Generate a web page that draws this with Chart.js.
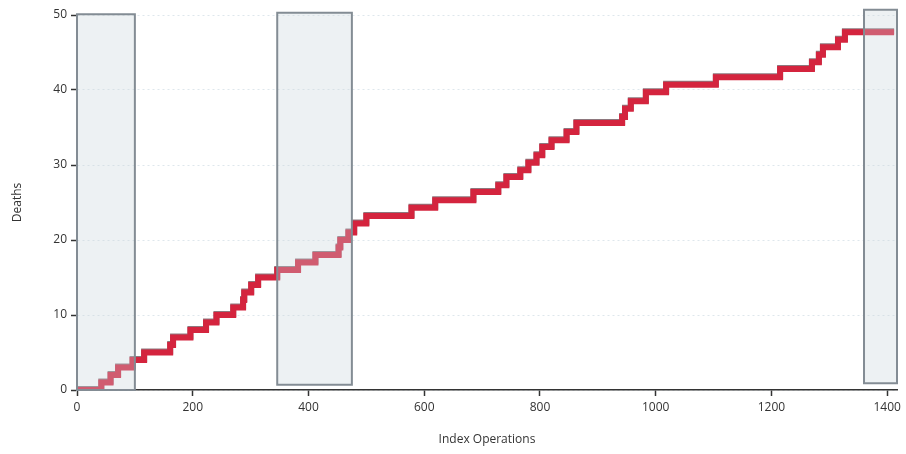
<!DOCTYPE html>
<html>
<head>
<meta charset="utf-8">
<script src="https://cdn.jsdelivr.net/npm/chart.js@4/dist/chart.umd.min.js"></script>
<style>
  html, body { margin: 0; padding: 0; background: #fff; }
  #wrap { width: 906px; height: 454px; }
</style>
</head>
<body>
<div id="wrap"><canvas id="deathsChart" width="906" height="454"></canvas></div>
<script>
// 死亡数の階段グラフ
const stepX = [0, 42, 58, 71, 96, 116, 161, 166, 196, 223, 241, 270, 287, 289, 301, 313, 346, 382, 412, 452,
  455, 469, 479, 500, 578, 619, 685, 728, 742, 766, 780, 794, 804, 820, 846, 863, 942, 947, 957, 983,
  1018, 1104, 1215, 1270, 1282, 1289, 1315, 1327, 1412];
const stepY = [0, 1, 2, 3, 4, 5, 6, 7, 8, 9, 10, 11, 12, 13, 14, 15, 16, 17, 18, 19,
  20, 21, 22.2, 23.2, 24.3, 25.3, 26.4, 27.3, 28.4, 29.3, 30.3, 31.3, 32.4, 33.3, 34.4, 35.6, 36.4, 37.5, 38.5, 39.7,
  40.7, 41.7, 42.8, 43.7, 44.7, 45.7, 46.7, 47.7, 47.7];
const xTicks = [0, 200, 400, 600, 800, 1000, 1200, 1400];
const yTicks = [0, 10, 20, 30, 40, 50];

// 強調区間（矩形）
const regionStart = [0, 346, 1360];
const regionEnd = [100, 475, 1417];
const regionBottom = [0, 0.7, 0.9];
const regionTop = [50.1, 50.3, 50.7];

const points = stepX.map((x, i) => ({ x: x, y: stepY[i] }));

// 矩形を線の上に半透明で描く
const regionPlugin = {
  id: 'regions',
  afterDatasetsDraw(chart) {
    const { ctx, scales: { x, y } } = chart;
    ctx.save();
    regionStart.forEach((s, i) => {
      const x0 = x.getPixelForValue(s);
      const x1 = x.getPixelForValue(regionEnd[i]);
      const y0 = y.getPixelForValue(regionTop[i]);
      const y1 = y.getPixelForValue(regionBottom[i]);
      ctx.fillStyle = 'rgba(200, 210, 218, 0.32)';
      ctx.fillRect(x0, y0, x1 - x0, y1 - y0);
      ctx.strokeStyle = '#838c94';
      ctx.lineWidth = 2;
      ctx.strokeRect(x0, y0, x1 - x0, y1 - y0);
    });
    ctx.restore();
  }
};

// 線の上端にうっすら黒い縁
const edgePlugin = {
  id: 'edge',
  beforeDatasetDraw(chart) {
    const ctx = chart.ctx;
    ctx.save();
    ctx.shadowColor = 'rgba(50, 10, 20, 0.55)';
    ctx.shadowOffsetY = -1;
    ctx.shadowBlur = 0;
  },
  afterDatasetDraw(chart) {
    chart.ctx.restore();
  }
};

new Chart(document.getElementById('deathsChart'), {
  type: 'line',
  data: {
    datasets: [{
      label: 'Deaths',
      data: points,
      stepped: true,
      borderColor: 'rgb(212, 36, 62)',
      borderWidth: 6,
      pointRadius: 0,
      fill: false
    }]
  },
  options: {
    responsive: false,
    animation: false,
    layout: { padding: { left: 0, right: 9, top: 15, bottom: 0 } },
    plugins: {
      legend: { display: false },
      tooltip: { enabled: false }
    },
    scales: {
      x: {
        type: 'linear',
        min: 0,
        max: 1417,
        afterBuildTicks: s => { s.ticks = xTicks.map(v => ({ value: v })); },
        afterFit: s => { s.height = 64; },
        grid: { drawOnChartArea: false, tickLength: 6, tickColor: '#333', tickWidth: 1.5 },
        border: { color: '#333', width: 1.5 },
        ticks: { font: { family: 'Open Sans', size: 12 }, color: '#333', padding: 4, callback: v => String(v) },
        title: {
          display: true,
          text: 'Index Operations',
          font: { family: 'Open Sans', size: 12 },
          color: '#333',
          padding: { top: 12, bottom: 7 }
        }
      },
      y: {
        min: 0,
        max: 50,
        afterBuildTicks: s => { s.ticks = yTicks.map(v => ({ value: v })); },
        afterFit: s => { s.width = 77; },
        grid: { color: 'rgba(160, 185, 200, 0.35)', tickLength: 6, tickColor: '#333', tickWidth: 1.5 },
        border: { color: '#333', width: 1.5, dash: [2, 3] },
        ticks: { font: { family: 'Open Sans', size: 12 }, color: '#333', padding: 4, callback: v => String(v) },
        title: {
          display: true,
          text: 'Deaths',
          font: { family: 'Open Sans', size: 12 },
          color: '#333',
          padding: { top: 10, bottom: 14 }
        }
      }
    }
  },
  plugins: [edgePlugin, regionPlugin]
});
</script>
</body>
</html>
